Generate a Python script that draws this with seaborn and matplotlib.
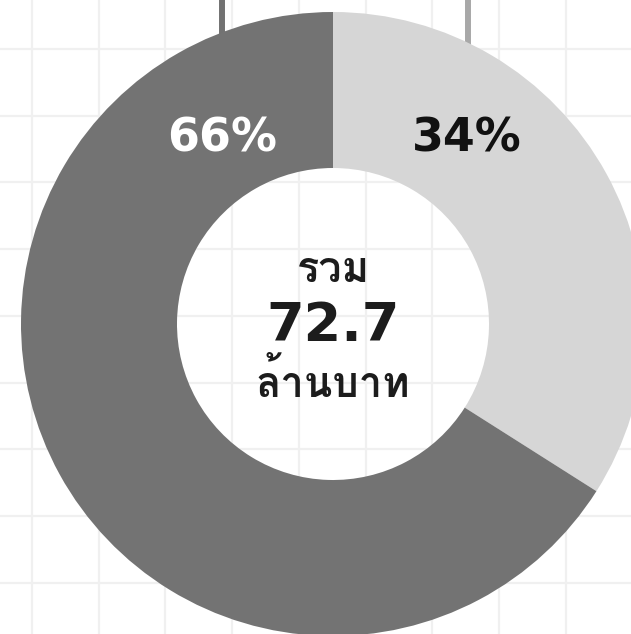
import seaborn as sns
import matplotlib.pyplot as plt
import numpy as np
from matplotlib import font_manager
from matplotlib.ft2font import FT2Font

# data
labels = ["34%", "66%"]
shares = [34, 66]
total_title = "รวม"
total_value = "72.7"
total_unit = "ล้านบาท"
slice_colors = ["#d6d6d6", "#737373"]
label_colors = ["#111111", "#ffffff"]

sns.set_theme(style="whitegrid", rc={"grid.color": "#f0f0f0", "grid.linewidth": 1.6})


def find_thai_font():
    # look for an installed font with Thai glyphs, weight near bold preferred
    found = []
    for f in font_manager.fontManager.ttflist:
        try:
            ft = FT2Font(f.fname)
            if ft.get_char_index(ord("ร")) and ft.get_char_index(ord("้")):
                w = f.weight if isinstance(f.weight, int) else 400
                found.append((abs(w - 700), f.style != "normal", f))
        except Exception:
            pass
    if not found:
        return None
    found.sort(key=lambda t: (t[1], t[0]))
    return found[0][2]


thai = find_thai_font()
thai_prop = font_manager.FontProperties(fname=thai.fname) if thai else font_manager.FontProperties(family="DejaVu Sans", weight="bold")

W, H = 631, 634
fig = plt.figure(figsize=(W / 100, H / 100), dpi=100)
ax = fig.add_axes([0, 0, 1, 1])

# background grid
step = 66.7
ax.set_xticks([32 + step * k for k in range(10)])
ax.set_yticks([H - (49 + step * k) for k in range(10)])
ax.tick_params(length=0, labelbottom=False, labelleft=False)
for s in ax.spines.values():
    s.set_visible(False)
ax.set_axisbelow(True)

cx, cy, r = 333, H - 324, 312

# hanging strings, stopping at the donut edge
for sx, col in [(222, "#727272"), (468, "#a8a8a8")]:
    y_edge = cy + np.sqrt(r ** 2 - (sx - cx) ** 2)
    ax.plot([sx, sx], [H, y_edge - 3], color=col, lw=4.3, zorder=1, solid_capstyle="butt")

wedges, _ = ax.pie(shares, colors=slice_colors, startangle=90, counterclock=False,
                   center=(cx, cy), radius=r, frame=True,
                   wedgeprops=dict(width=r - 156, linewidth=0))
for w in wedges:
    w.set_zorder(2)
ax.set_xlim(0, W)
ax.set_ylim(0, H)
ax.set_aspect("equal")

# percentage labels
ax.text(467, H - 139, labels[0], color=label_colors[0], fontsize=33, fontweight="bold",
        ha="center", va="center", zorder=3, family="DejaVu Sans")
ax.text(222, H - 139, labels[1], color=label_colors[1], fontsize=33, fontweight="bold",
        ha="center", va="center", zorder=3, family="DejaVu Sans")

# centre text
ax.text(cx, H - 272, total_title, color="#1c1c1c", fontproperties=thai_prop, fontsize=30,
        ha="center", va="center", zorder=3)
ax.text(cx, H - 326, total_value, color="#1c1c1c", fontsize=39, fontweight="bold",
        ha="center", va="center", zorder=3, family="DejaVu Sans")
ax.text(cx, H - 382, total_unit, color="#1c1c1c", fontproperties=thai_prop, fontsize=30,
        ha="center", va="center", zorder=3)

fig.savefig("out.png", dpi=100, facecolor="white")
